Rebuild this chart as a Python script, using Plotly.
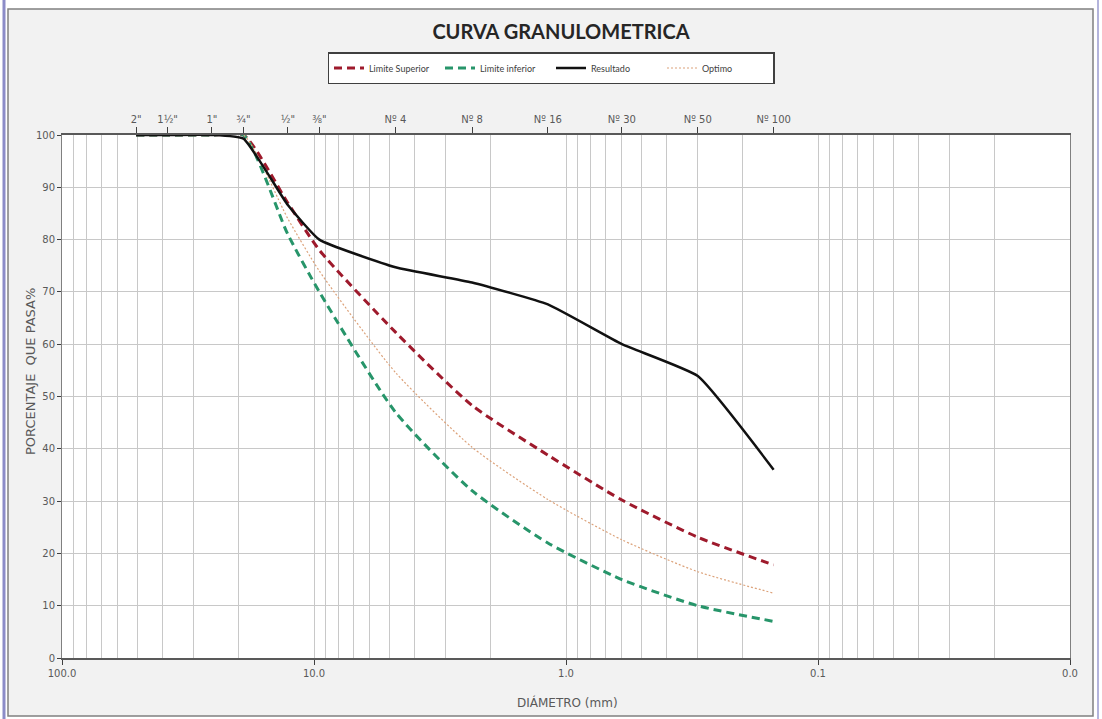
import plotly.graph_objects as go

# Sieve openings (mm) and labels
sieve_mm = [50.8, 38.1, 25.4, 19.05, 12.7, 9.525, 4.75, 2.36, 1.18, 0.6, 0.3, 0.15]
sieve_lbl = ['2"', '1½"', '1"', '¾"', '½"', '⅜"', 'Nº 4', 'Nº 8', 'Nº 16', 'Nº 30', 'Nº 50', 'Nº 100']

lim_sup = [100, 100, 100, 100, 87.0, 78.0, 62.3, 48.3, 38.8, 30.2, 23.1, 17.8]
lim_inf = [100, 100, 100, 100, 81.0, 70.0, 47.0, 32.0, 22.0, 15.0, 10.0, 7.0]
resultado = [100, 100, 100, 99.3, 86.6, 80.0, 74.7, 71.8, 67.6, 60.0, 53.9, 36.0]
optimo = [100, 100, 100, 100, 84.0, 74.0, 54.6, 40.3, 30.3, 22.6, 16.5, 12.4]

x_major = [100, 10, 1, 0.1, 0.01]
x_major_lbl = ["100.0", "10.0", "1.0", "0.1", "0.0"]
y_ticks = [0, 10, 20, 30, 40, 50, 60, 70, 80, 90, 100]

minor_vals = [m * d for d in (10, 1, 0.1, 0.01) for m in range(2, 10)]

FONT = "DejaVu Sans"
GRID = "#c8c8c8"
TXT = "#595959"

fig = go.Figure()
fig.add_trace(go.Scatter(x=sieve_mm, y=lim_sup, name="Limite Superior", mode="lines",
                         line=dict(color="#9e1a2c", width=3, dash="8px,5px", shape="spline", smoothing=0.6),
                         legendrank=1))
fig.add_trace(go.Scatter(x=sieve_mm, y=lim_inf, name="Limite inferior", mode="lines",
                         line=dict(color="#27956a", width=3, dash="8px,5px", shape="spline", smoothing=0.6),
                         legendrank=2))
fig.add_trace(go.Scatter(x=sieve_mm, y=optimo, name="Optimo", mode="lines",
                         line=dict(color="#dca27a", width=1.2, dash="2px,2px", shape="spline", smoothing=0.6),
                         legendrank=4))
fig.add_trace(go.Scatter(x=sieve_mm, y=resultado, name="Resultado", mode="lines",
                         line=dict(color="#111111", width=2.5, shape="spline", smoothing=0.4),
                         legendrank=3))
# invisible trace to anchor the top (sieve) axis
fig.add_trace(go.Scatter(x=sieve_mm, y=resultado, xaxis="x2", mode="lines",
                         line=dict(width=0), opacity=0, showlegend=False, hoverinfo="skip"))

fig.update_layout(
    width=1102, height=719,
    paper_bgcolor="#ffffff", plot_bgcolor="#ffffff",
    margin=dict(l=62, r=32, t=135, b=61),
    font=dict(family=FONT, size=10, color=TXT),
    title=dict(text="<b>CURVA GRANULOMETRICA</b>", x=561 / 1102, xanchor="center",
               y=1 - 32 / 719, yanchor="middle", yref="container",
               font=dict(family="Lato", size=20, color="#262626")),
    showlegend=True,
    legend=dict(orientation="h", x=551 / 1102, xanchor="center", xref="container",
                y=1 - 52 / 719, yanchor="top", yref="container",
                bgcolor="#ffffff", bordercolor="#404040", borderwidth=1.5,
                font=dict(family="Lato", size=9, color="#404040"),
                entrywidth=66, entrywidthmode="pixels", itemwidth=30,
                traceorder="normal"),
    xaxis=dict(type="log", range=[2, -2], tickvals=x_major, ticktext=x_major_lbl,
               showgrid=True, gridcolor=GRID, gridwidth=1,
               minor=dict(tickvals=minor_vals, showgrid=True, gridcolor=GRID, gridwidth=1, ticks=""),
               ticks="outside", ticklen=5, tickcolor="#404040",
               showline=True, linecolor="#595959", linewidth=1.5, zeroline=False,
               tickfont=dict(size=10, color=TXT)),
    xaxis2=dict(type="log", range=[2, -2], overlaying="x", side="top", anchor="y",
                tickvals=sieve_mm, ticktext=sieve_lbl, showgrid=False,
                ticks="outside", ticklen=6, tickcolor="#404040",
                showline=True, linecolor="#595959", linewidth=1.5,
                tickfont=dict(size=10, color=TXT)),
    yaxis=dict(range=[0, 100], tickvals=y_ticks, showgrid=True, gridcolor=GRID, gridwidth=1,
               ticks="outside", ticklen=4, tickcolor="#404040",
               showline=True, mirror=True, linecolor="#808080", linewidth=1, zeroline=False,
               tickfont=dict(size=10, color=TXT)),
    annotations=[
        dict(text="DIÁMETRO (mm)", xref="paper", yref="paper", x=(567 - 62) / 1008, y=-(702 - 658) / 523,
             xanchor="center", yanchor="middle", showarrow=False,
             font=dict(family=FONT, size=12, color=TXT)),
        dict(text="PORCENTAJE  QUE PASA%", xref="paper", yref="paper", x=(30 - 62) / 1008,
             y=(658 - 372) / 523,
             xanchor="center", yanchor="middle", textangle=-90, showarrow=False,
             font=dict(family=FONT, size=13, color=TXT)),
    ],
    shapes=[
        dict(type="rect", xref="paper", yref="paper", layer="below",
             x0=(8 - 62) / 1008, x1=(1093 - 62) / 1008,
             y0=(658 - 716) / 523, y1=(658 - 9) / 523,
             fillcolor="#f2f2f2", line=dict(color="#808080", width=1.5)),
        dict(type="rect", xref="paper", yref="paper", layer="below",
             x0=0, x1=1, y0=0, y1=1, fillcolor="#ffffff", line=dict(width=0)),
        dict(type="line", xref="paper", yref="paper",
             x0=(4 - 62) / 1008, x1=(4 - 62) / 1008, y0=(658 - 719) / 523, y1=(658 - 0) / 523,
             line=dict(color="#8c8cc8", width=3)),
        dict(type="line", xref="paper", yref="paper",
             x0=(1098 - 62) / 1008, x1=(1098 - 62) / 1008, y0=(658 - 719) / 523, y1=(658 - 0) / 523,
             line=dict(color="#b4b4dc", width=2)),
    ],
)

fig.write_html("out.html", config={"displayModeBar": False},
               post_script="document.body.style.margin='0px';")
